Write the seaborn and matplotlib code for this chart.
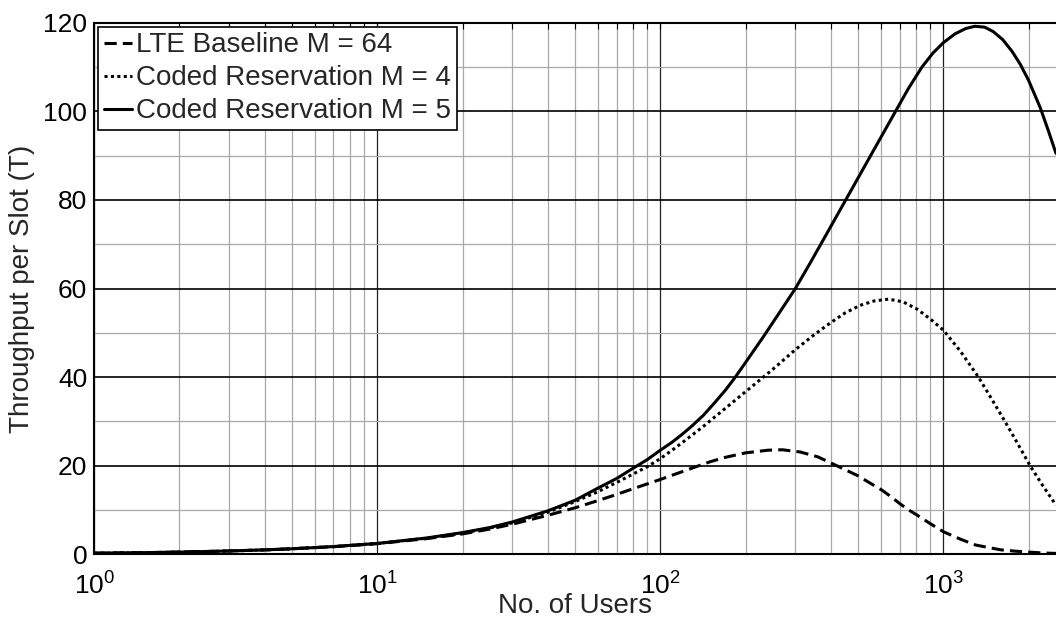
import numpy as np
import pandas as pd
import matplotlib
matplotlib.use('Agg')
import matplotlib.pyplot as plt
from matplotlib.ticker import LogLocator, MultipleLocator, NullFormatter
import seaborn as sns

# values
users_lte = [1, 1.5, 2, 3, 4, 5, 7, 10, 15, 20, 25, 30, 40, 50, 60, 70, 80, 90,
             100, 120, 134, 150, 170, 200, 240, 270, 312, 360, 420, 500, 550,
             606, 650, 703, 750, 805, 900, 1000, 1150, 1300, 1450, 1600, 1800,
             2000, 2250, 2500]
thr_lte = [0.25, 0.37, 0.5, 0.75, 1.0, 1.25, 1.7, 2.4, 3.55, 4.6, 5.7, 6.8, 8.8,
           10.5, 12.1, 13.5, 14.8, 15.9, 16.9, 18.7, 19.8, 20.9, 21.9, 22.9,
           23.5, 23.6, 23.1, 22.0, 20.0, 17.7, 16.1, 14.5, 13.1, 11.4, 10.1,
           8.9, 6.9, 5.1, 3.4, 2.1, 1.5, 1.0, 0.7, 0.5, 0.3, 0.2]

users_m4 = [1, 1.5, 2, 3, 4, 5, 7, 10, 15, 20, 25, 30, 40, 50, 60, 70, 80, 90,
            100, 110, 120, 130, 142, 170, 200, 250, 300, 350, 400, 450, 508, 570,
            640, 720, 805, 900, 1000, 1150, 1330, 1480, 1650, 1830, 2025, 2250,
            2500]
thr_m4 = [0.25, 0.37, 0.5, 0.75, 1.0, 1.25, 1.75, 2.45, 3.65, 4.8, 5.95, 7.1,
          9.5, 11.9, 14.1, 16.2, 18.1, 19.8, 21.6, 23.5, 25.3, 27.0, 28.9, 33.0,
          36.7, 41.8, 46.2, 49.6, 52.3, 54.5, 56.2, 57.2, 57.6, 57.0, 55.4, 53.1,
          50.6, 45.8, 40.0, 35.1, 30.0, 25.0, 20.0, 15.4, 11.1]

users_m5 = [1, 1.5, 2, 3, 4, 5, 7, 10, 15, 20, 25, 30, 40, 50, 60, 70, 80, 90,
            100, 110, 120, 130, 142, 155, 170, 184, 200, 230, 260, 300, 340, 375,
            410, 450, 500, 551, 600, 675, 750, 840, 920, 1000, 1100, 1200, 1294,
            1400, 1500, 1620, 1750, 1870, 2000, 2200, 2350, 2500]
thr_m5 = [0.25, 0.37, 0.5, 0.75, 1.0, 1.25, 1.75, 2.45, 3.7, 4.9, 6.05, 7.3, 9.8,
          12.2, 14.9, 17.1, 19.4, 21.4, 23.5, 25.3, 27.2, 29.1, 31.4, 34.1, 37.1,
          40.0, 43.3, 48.9, 54.0, 60.0, 66.0, 70.8, 75.2, 79.8, 85.0, 89.8, 94.0,
          99.8, 105.0, 110.0, 113.2, 115.5, 117.5, 118.7, 119.2, 119.0, 118.0,
          116.2, 113.5, 110.6, 107.0, 100.8, 95.6, 90.5]

labels = ['LTE Baseline M = 64', 'Coded Reservation M = 4', 'Coded Reservation M = 5']

df = pd.concat([
    pd.DataFrame({'users': users_lte, 'thr': thr_lte, 'series': labels[0]}),
    pd.DataFrame({'users': users_m4, 'thr': thr_m4, 'series': labels[1]}),
    pd.DataFrame({'users': users_m5, 'thr': thr_m5, 'series': labels[2]}),
])

sns.set_style('white')
plt.rcParams['font.family'] = ['Liberation Sans', 'DejaVu Sans']
plt.rcParams['mathtext.fontset'] = 'custom'
plt.rcParams['mathtext.rm'] = 'Liberation Sans'
plt.rcParams['mathtext.it'] = 'Liberation Sans:italic'
plt.rcParams['xtick.direction'] = 'in'
plt.rcParams['ytick.direction'] = 'in'

fig = plt.figure(figsize=(10.56, 6.21), dpi=100)
ax = fig.add_axes([0.0893, 0.1074, 0.9107, 0.856])

sns.lineplot(data=df, x='users', y='thr', style='series', style_order=labels,
             dashes={labels[0]: (4, 2), labels[1]: (1, 1.1), labels[2]: ''},
             color='black', linewidth=2.2, estimator=None, sort=True, ax=ax)

ax.set_xscale('log')
ax.set_xlim(1, 2500)
ax.set_ylim(0, 120)
ax.yaxis.set_major_locator(MultipleLocator(20))
ax.yaxis.set_minor_locator(MultipleLocator(10))
ax.xaxis.set_major_locator(LogLocator(base=10))
ax.xaxis.set_minor_locator(LogLocator(base=10, subs=np.arange(2, 10)))
ax.xaxis.set_minor_formatter(NullFormatter())

ax.grid(True, which='major', axis='y', color='black', linewidth=1.2)
ax.grid(True, which='major', axis='x', color='#202020', linewidth=0.9)
ax.grid(True, which='minor', color='#a8a8a8', linewidth=0.9)
ax.set_axisbelow(True)

for s in ['left', 'bottom', 'top']:
    ax.spines[s].set_color('black')
    ax.spines[s].set_linewidth(1.5)
ax.spines['right'].set_visible(False)

ax.tick_params(which='both', top=True, length=4, width=0.8, colors='black')
ax.tick_params(axis='x', labelsize=19, pad=13)
ax.tick_params(axis='y', labelsize=19, pad=5)

ax.set_xlabel('No. of Users', fontsize=20, labelpad=-5)
ax.set_ylabel('Throughput per Slot (T)', fontsize=20, labelpad=6)

leg = ax.legend(loc='upper left', fontsize=20, frameon=True, fancybox=False,
                edgecolor='black', framealpha=1, borderpad=0.2,
                labelspacing=0.25, handlelength=1.0, handletextpad=0.15,
                borderaxespad=0.15)
leg.get_frame().set_linewidth(1.2)

fig.savefig('out.png', dpi=100)
